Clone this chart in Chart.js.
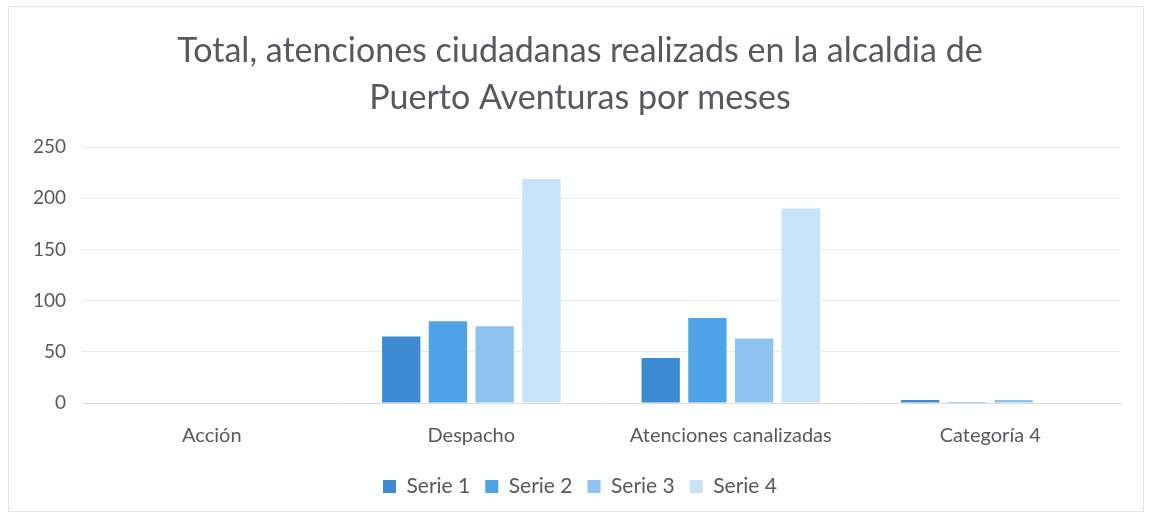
<!DOCTYPE html>
<html><head><meta charset="utf-8">
<script src="https://cdn.jsdelivr.net/npm/chart.js@4"></script>
<style>
html,body{margin:0;padding:0;background:#fdfefe;}
#wrap{position:absolute;left:8px;top:6px;width:1134px;height:504px;border:1px solid #e2e4e6;background:#fdfefe;}
</style></head>
<body>
<div id="wrap"><canvas id="c"></canvas></div>
<script>
const categories = ["Acción", "Despacho", "Atenciones canalizadas", "Categoría 4"];
const serie1 = [0, 65, 44, 3];
const serie2 = [0, 80, 83, 1];
const serie3 = [0, 75, 63, 3];
const serie4 = [0, 219, 190, 0];
const seriesNames = ["Serie 1", "Serie 2", "Serie 3", "Serie 4"];
const titleLines = ["Total, atenciones ciudadanas realizads en la alcaldia de", "Puerto Aventuras por meses"];

const colors = ["#3d8bd2", "#4da2e8", "#90c2f0", "#c8e2fa"];
const values = [serie1, serie2, serie3, serie4];

new Chart(document.getElementById("c"), {
  type: "bar",
  data: {
    labels: categories,
    datasets: seriesNames.map((n, i) => ({
      label: n, data: values[i], backgroundColor: colors[i],
      categoryPercentage: 0.72, barPercentage: 0.82
    }))
  },
  options: {
    responsive: true, maintainAspectRatio: false, animation: false,
    layout: { padding: { left: 8, right: 0, top: 6, bottom: 4 } },
    plugins: {
      title: { display: true, text: titleLines, color: "#555a60",
        font: { family: "Lato", size: 34, weight: "normal", lineHeight: 1.4 },
        padding: { top: 14, bottom: 25 } },
      legend: { position: "bottom", labels: { color: "#555a60", boxWidth: 13, boxHeight: 13,
        font: { family: "Lato", size: 21 }, padding: 15 } },
      tooltip: { enabled: false }
    },
    scales: {
      x: { grid: { display: false }, border: { color: "#dcdcdc" },
        ticks: { color: "#555a60", font: { family: "Lato", size: 20 }, padding: 13 } },
      y: { min: 0, max: 250, ticks: { stepSize: 50, color: "#555a60", font: { family: "Lato", size: 19 }, padding: 16 },
        grid: { color: "#e8eaec", drawTicks: false }, border: { display: false } },
      yRight: { position: "right", display: true, grid: { display: false }, border: { display: false },
        ticks: { display: false }, afterFit(s) { s.width = 23; } }
    }
  }
});
</script>
</body></html>
